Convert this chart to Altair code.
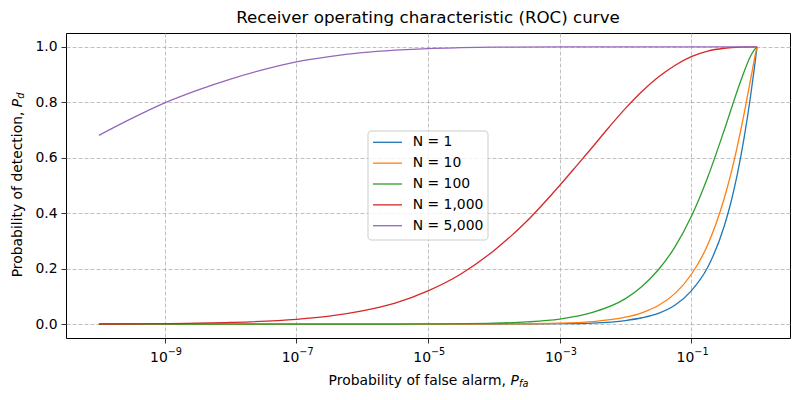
import altair as alt
import pandas as pd

# ---- data (log10 of Pfa, Pd) ----
series_labels = ["N = 1", "N = 10", "N = 100", "N = 1,000", "N = 5,000"]
series_colors = ["#1f77b4", "#ff7f0e", "#2ca02c", "#d62728", "#9467bd"]

n1_log_pfa = [-10, -5, -4, -3, -2.5, -2, -1.75, -1.5, -1.25, -1, -0.75, -0.5, -0.4, -0.3, -0.2, -0.1, -0.05, -0.02, 0]
n1_pd = [0.0, 0.0, 0.0005, 0.0015, 0.004, 0.013, 0.023, 0.039, 0.068, 0.12, 0.205, 0.353, 0.437, 0.541, 0.668, 0.821, 0.909, 0.964, 1.0]

n10_log_pfa = [-10, -5, -4, -3, -2.5, -2, -1.75, -1.5, -1.25, -1, -0.75, -0.5, -0.4, -0.3, -0.2, -0.1, -0.05, -0.02, 0]
n10_pd = [0.0, 0.0, 0.0008, 0.0032, 0.009, 0.025, 0.041, 0.067, 0.11, 0.179, 0.286, 0.453, 0.540, 0.642, 0.756, 0.881, 0.944, 0.980, 1.0]

n100_log_pfa = [-10, -6, -5, -4, -3.5, -3, -2.5, -2, -1.75, -1.5, -1.25, -1, -0.75, -0.5, -0.25, -0.1, -0.04, 0]
n100_pd = [0.0, 0.0, 0.0006, 0.0033, 0.0078, 0.018, 0.042, 0.092, 0.136, 0.196, 0.278, 0.388, 0.53, 0.699, 0.876, 0.966, 0.99, 1.0]

n1000_log_pfa = [-10, -9, -8, -7, -6.5, -6, -5.5, -5, -4.5, -4, -3.5, -3, -2.75, -2.5, -2.25, -2, -1.75, -1.5, -1.25, -1, -0.75, -0.5, -0.25, 0]
n1000_pd = [0.0005, 0.0018, 0.006, 0.0174, 0.029, 0.048, 0.076, 0.12, 0.181, 0.265, 0.371, 0.5, 0.569, 0.639, 0.71, 0.778, 0.839, 0.891, 0.933, 0.965, 0.985, 0.995, 0.999, 1.0]

n5000_log_pfa = [-10, -9.5, -9, -8.5, -8, -7.5, -7, -6.5, -6, -5.5, -5, -4.5, -4, -3, 0]
n5000_pd = [0.681, 0.742, 0.798, 0.844, 0.884, 0.918, 0.946, 0.965, 0.979, 0.988, 0.994, 0.997, 0.999, 1.0, 1.0]

tick_values = [1e-9, 1e-7, 1e-5, 1e-3, 1e-1]
tick_exponents = ["\u22129", "\u22127", "\u22125", "\u22123", "\u22121"]
y_tick_values = [0.0, 0.2, 0.4, 0.6, 0.8, 1.0]

title_text = "Receiver operating characteristic (ROC) curve"

# ---- build tables ----
all_series = [
    (series_labels[0], n1_log_pfa, n1_pd),
    (series_labels[1], n10_log_pfa, n10_pd),
    (series_labels[2], n100_log_pfa, n100_pd),
    (series_labels[3], n1000_log_pfa, n1000_pd),
    (series_labels[4], n5000_log_pfa, n5000_pd),
]
rows = []
for lab, lx, py in all_series:
    for i, (e, p) in enumerate(zip(lx, py)):
        rows.append({"series": lab, "pfa": 10.0 ** e, "pd": p, "idx": i})
df = pd.DataFrame(rows)
tick_df = pd.DataFrame({"pfa": tick_values, "exp": tick_exponents})
legend_df = pd.DataFrame({"label": series_labels, "color": series_colors,
                          "row": list(range(len(series_labels)))})

W, H = 724, 305
FONT = "DejaVu Sans"

x_scale = alt.Scale(type="log", domain=[10 ** -10.5, 10 ** 0.5], nice=False)
x_axis = alt.Axis(values=tick_values, labels=False, title=None, grid=True, tickSize=5)
y_scale = alt.Scale(domain=[-0.05, 1.05], nice=False, zero=False)

lines = alt.Chart(df).mark_line(strokeWidth=1.3, interpolate="monotone").encode(
    x=alt.X("pfa:Q", scale=x_scale, axis=x_axis),
    y=alt.Y("pd:Q", scale=y_scale,
            axis=alt.Axis(values=y_tick_values, format=".1f", title=None, grid=True,
                          tickSize=5, labelPadding=4)),
    color=alt.Color("series:N", sort=series_labels,
                    scale=alt.Scale(domain=series_labels, range=series_colors),
                    legend=None),
    order=alt.Order("idx:Q"),
)

tick_base = alt.Chart(tick_df).encode(x=alt.X("pfa:Q", scale=x_scale, axis=x_axis))
tick_ten = tick_base.mark_text(align="right", baseline="middle", dx=3, fontSize=13.9,
                               color="black", font=FONT).encode(
    y=alt.value(H + 20), text=alt.value("10"))
tick_sup = tick_base.mark_text(align="left", baseline="middle", dx=3, fontSize=9.7,
                               color="black", font=FONT).encode(
    y=alt.value(H + 14), text="exp:N")

one = alt.Data(values=[{"k": 1}])


def label(txt, x, y, size=13.9, italic=False, angle=None, align="left"):
    kw = dict(align=align, baseline="middle", fontSize=size, color="black", font=FONT)
    if italic:
        kw["fontStyle"] = "italic"
    if angle is not None:
        kw["angle"] = angle
    return alt.Chart(one).mark_text(**kw).encode(
        x=alt.value(x), y=alt.value(y), text=alt.value(txt))


title_mark = label(title_text, W / 2, -15, size=16.7, align="center")
xt_main = label("Probability of false alarm,", 440, 348, align="right")
xt_p = label("P", 444.5, 348, italic=True)
xt_sub = label("fa", 453, 351, size=9.7, italic=True)
yt_main = label("Probability of detection,", -48, 78.6, angle=270, align="right")
yt_p = label("P", -48, 74.2, italic=True, angle=270)
yt_sub = label("d", -45, 65.8, size=9.7, italic=True, angle=270)

# ---- legend (matplotlib style box) ----
leg_box = alt.Chart(one).mark_rect(
    fill="white", fillOpacity=0.8, stroke="#cccccc", strokeWidth=1, cornerRadius=3
).encode(x=alt.value(302), x2=alt.value(422), y=alt.value(98), y2=alt.value(207))

leg_base = alt.Chart(legend_df).transform_calculate(ly="109.3 + 20.85 * datum.row")
leg_lines = leg_base.mark_rule(strokeWidth=1.3).encode(
    x=alt.value(307), x2=alt.value(336),
    y=alt.Y("ly:Q", scale=None, axis=None),
    color=alt.Color("color:N", scale=None, legend=None),
)
leg_text = leg_base.mark_text(align="left", baseline="middle", fontSize=13.9,
                              color="black", font=FONT).encode(
    x=alt.value(346.7),
    y=alt.Y("ly:Q", scale=None, axis=None),
    text="label:N",
)

chart = alt.layer(
    lines, tick_ten, tick_sup, title_mark, xt_main, xt_p, xt_sub, yt_main, yt_p, yt_sub,
    leg_box, leg_lines, leg_text
).properties(
    width=W, height=H,
    padding={"left": 58, "top": 25, "right": 2, "bottom": 54},
    autosize=alt.AutoSizeParams(type="none"),
).configure(font=FONT).configure_view(
    stroke="black", strokeWidth=1
).configure_axis(
    domain=False, tickColor="black", tickWidth=0.8, labelColor="black", labelFontSize=13.9,
    labelFont=FONT, gridColor="#b0b0b0", gridDash=[4, 2], gridWidth=0.8
)

chart.save("out.html", embed_options={"renderer": "svg", "actions": False})
